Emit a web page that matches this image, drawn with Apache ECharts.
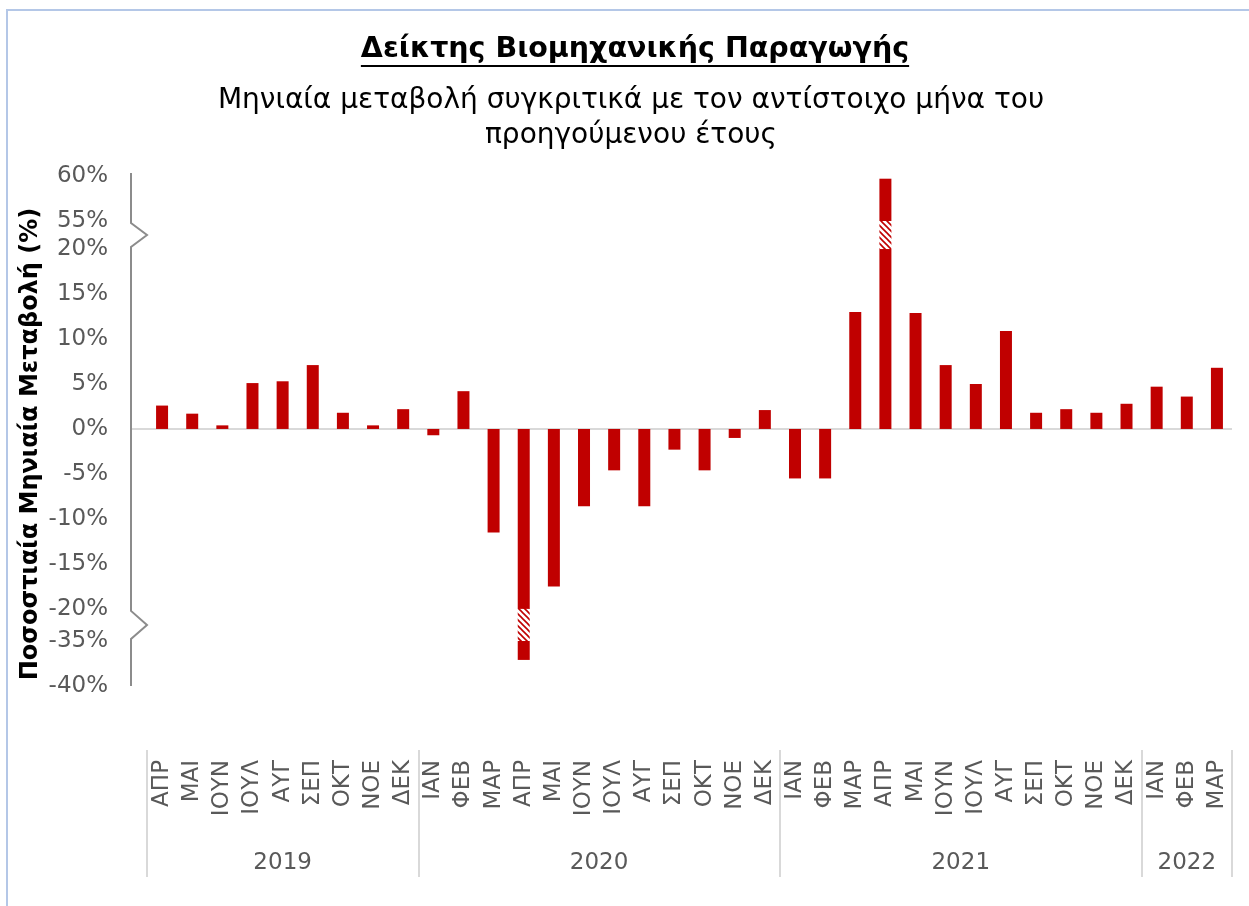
<!DOCTYPE html>
<html><head><meta charset="utf-8">
<script src="https://cdn.jsdelivr.net/npm/echarts@6/dist/echarts.min.js"></script>
<style>html,body{margin:0;padding:0;background:#fff}#c{width:1249px;height:906px}</style>
</head><body><div id="c"></div>
<script>
// ---- data ----
const months = ['ΑΠΡ','ΜΑΙ','ΙΟΥΝ','ΙΟΥΛ','ΑΥΓ','ΣΕΠ','ΟΚΤ','ΝΟΕ','ΔΕΚ',
  'ΙΑΝ','ΦΕΒ','ΜΑΡ','ΑΠΡ','ΜΑΙ','ΙΟΥΝ','ΙΟΥΛ','ΑΥΓ','ΣΕΠ','ΟΚΤ','ΝΟΕ','ΔΕΚ',
  'ΙΑΝ','ΦΕΒ','ΜΑΡ','ΑΠΡ','ΜΑΙ','ΙΟΥΝ','ΙΟΥΛ','ΑΥΓ','ΣΕΠ','ΟΚΤ','ΝΟΕ','ΔΕΚ',
  'ΙΑΝ','ΦΕΒ','ΜΑΡ'];
const years = ['2019','2020','2021','2022'];
const monthsPerYear = [9, 12, 12, 3];
const values = [2.6, 1.7, 0.4, 5.1, 5.3, 7.1, 1.8, 0.4, 2.2,
  -0.7, 4.2, -11.5, -37.1, -17.5, -8.6, -4.6, -8.6, -2.3, -4.6, -1.0, 2.1,
  -5.5, -5.5, 13.0, 59.7, 12.9, 7.1, 5.0, 10.9, 1.8, 2.2, 1.8, 2.8,
  4.7, 3.6, 6.8];
const yTicks = [-40, -35, -20, -15, -10, -5, 0, 5, 10, 15, 20, 55, 60];
const upperBreak = [20, 55];
const lowerBreak = [-35, -20];

const titleText = 'Δείκτης Βιομηχανικής Παραγωγής';
const subLine1 = 'Μηνιαία μεταβολή συγκριτικά με τον αντίστοιχο μήνα του';
const subLine2 = 'προηγούμενου έτους';
const yName = 'Ποσοστιαία Μηνιαία Μεταβολή (%)';

// ---- derived ----
const bounds = [0];
monthsPerYear.forEach(n => bounds.push(bounds[bounds.length - 1] + n));
const centers = years.map((y, i) => (bounds[i] + bounds[i + 1]) / 2);
const inner = values.map(v => Math.max(lowerBreak[1], Math.min(upperBreak[0], v)));
const hatch = values.map(v => v > upperBreak[1] ? upperBreak[1] - upperBreak[0]
  : (v < lowerBreak[0] ? lowerBreak[0] - lowerBreak[1] : '-'));
const outer = values.map(v => v > upperBreak[1] ? v - upperBreak[1]
  : (v < lowerBreak[0] ? v - lowerBreak[0] : '-'));

const RED = '#c00000';
const FONT = 'DejaVu Sans, Verdana, sans-serif';

// hatch pattern
const pc = document.createElement('canvas');
pc.width = 6; pc.height = 6;
const pctx = pc.getContext('2d');
pctx.fillStyle = '#fff'; pctx.fillRect(0, 0, 6, 6);
pctx.strokeStyle = RED; pctx.lineWidth = 1.6;
pctx.beginPath(); pctx.moveTo(-1, -1); pctx.lineTo(7, 7); pctx.stroke();
pctx.beginPath(); pctx.moveTo(-1, 5); pctx.lineTo(1, 7); pctx.stroke();
pctx.beginPath(); pctx.moveTo(5, -1); pctx.lineTo(7, 1); pctx.stroke();

const chart = echarts.init(document.getElementById('c'), null, {renderer: 'canvas'});

const barCommon = {type: 'bar', stack: 'v', barWidth: 12, xAxisIndex: 0, yAxisIndex: 0, z: 3};
chart.setOption({
  animation: false,
  backgroundColor: '#fff',
  grid: {left: 147, right: 17, top: 176, bottom: 220},
  xAxis: [
    {type: 'category', data: months, axisLine: {show: false}, axisTick: {show: false},
      axisLabel: {interval: 0, rotate: 90, margin: 74, fontSize: 23, color: '#595959', fontFamily: FONT}},
    {type: 'value', min: 0, max: bounds[bounds.length - 1], position: 'bottom', offset: 64,
      axisLine: {show: false}, splitLine: {show: false},
      axisTick: {show: true, customValues: bounds, length: 127, lineStyle: {color: '#d9d9d9', width: 2}},
      axisLabel: {customValues: centers, margin: 102, fontSize: 23, color: '#595959', fontFamily: FONT,
        formatter: v => { const i = centers.indexOf(v); return i >= 0 ? years[i] : ''; }}}
  ],
  yAxis: {
    type: 'value', min: -40, max: 60, interval: 5, position: 'left', offset: 16,
    breaks: [{start: upperBreak[0], end: upperBreak[1], gap: '5.5%'},
             {start: lowerBreak[0], end: lowerBreak[1], gap: '6.3%'}],
    breakArea: {show: false, itemStyle: {opacity: 0}},
    breakLabelLayout: {moveOverlap: false},
    axisLine: {show: false}, axisTick: {show: false}, splitLine: {show: false},
    axisLabel: {customValues: yTicks, formatter: v => v + '%', color: '#595959', fontSize: 23,
      margin: 23, fontFamily: FONT}
  },
  series: [
    Object.assign({}, barCommon, {name: 'a', data: inner, itemStyle: {color: RED}}),
    Object.assign({}, barCommon, {name: 'b', data: hatch, itemStyle: {color: {image: pc, repeat: 'repeat'}}}),
    Object.assign({}, barCommon, {name: 'c', data: outer, itemStyle: {color: RED}})
  ]
});

// decorations computed from the axes
const yp = v => chart.convertToPixel({yAxisIndex: 0}, v);
const xLeft = chart.convertToPixel({xAxisIndex: 1}, 0);
const xRight = chart.convertToPixel({xAxisIndex: 1}, bounds[bounds.length - 1]);
const ax = xLeft - 16;
const zig = 16;
const u55 = yp(upperBreak[1]), u20 = yp(upperBreak[0]);
const l20 = yp(lowerBreak[1]), l35 = yp(lowerBreak[0]);
const axisPts = [
  [ax, yp(60) - 3], [ax, u55 + 2], [ax + zig, (u55 + u20) / 2], [ax, u20 - 2],
  [ax, l20 + 2], [ax + zig, (l20 + l35) / 2], [ax, l35 - 2], [ax, yp(-40)]
];

// measure title for underline
const mc = document.createElement('canvas').getContext('2d');
const titleFont = 'bold 28.5px ' + FONT;
mc.font = titleFont;
const tw = mc.measureText(titleText).width;
const tcx = 635, tcy = 50;

chart.setOption({
  graphic: [
    {type: 'rect', z: 0, silent: true, shape: {x: 7, y: 10, width: 1400, height: 1000},
      style: {fill: 'none', stroke: '#b4c7e7', lineWidth: 2}},
    {type: 'line', z: 1, silent: true, shape: {x1: ax, y1: yp(0), x2: xRight, y2: yp(0)},
      style: {stroke: '#d9d9d9', lineWidth: 2}},
    {type: 'polyline', z: 1, silent: true, shape: {points: axisPts},
      style: {stroke: '#8c8c8c', lineWidth: 2, fill: null}},
    {type: 'text', z: 5, x: tcx, y: tcy, style: {text: titleText, font: titleFont, fill: '#000',
      align: 'center', verticalAlign: 'middle'}},
    {type: 'line', z: 5, shape: {x1: tcx - tw / 2, y1: tcy + 16, x2: tcx + tw / 2, y2: tcy + 16},
      style: {stroke: '#000', lineWidth: 2}},
    {type: 'text', z: 5, x: 631, y: 101, style: {text: subLine1, font: '28px ' + FONT, fill: '#000',
      align: 'center', verticalAlign: 'middle'}},
    {type: 'text', z: 5, x: 631, y: 136, style: {text: subLine2, font: '28px ' + FONT, fill: '#000',
      align: 'center', verticalAlign: 'middle'}},
    {type: 'text', z: 5, x: 31, y: 444, rotation: Math.PI / 2, style: {text: yName,
      font: 'bold 24px ' + FONT, fill: '#000', align: 'center', verticalAlign: 'middle'}}
  ]
});
</script></body></html>
